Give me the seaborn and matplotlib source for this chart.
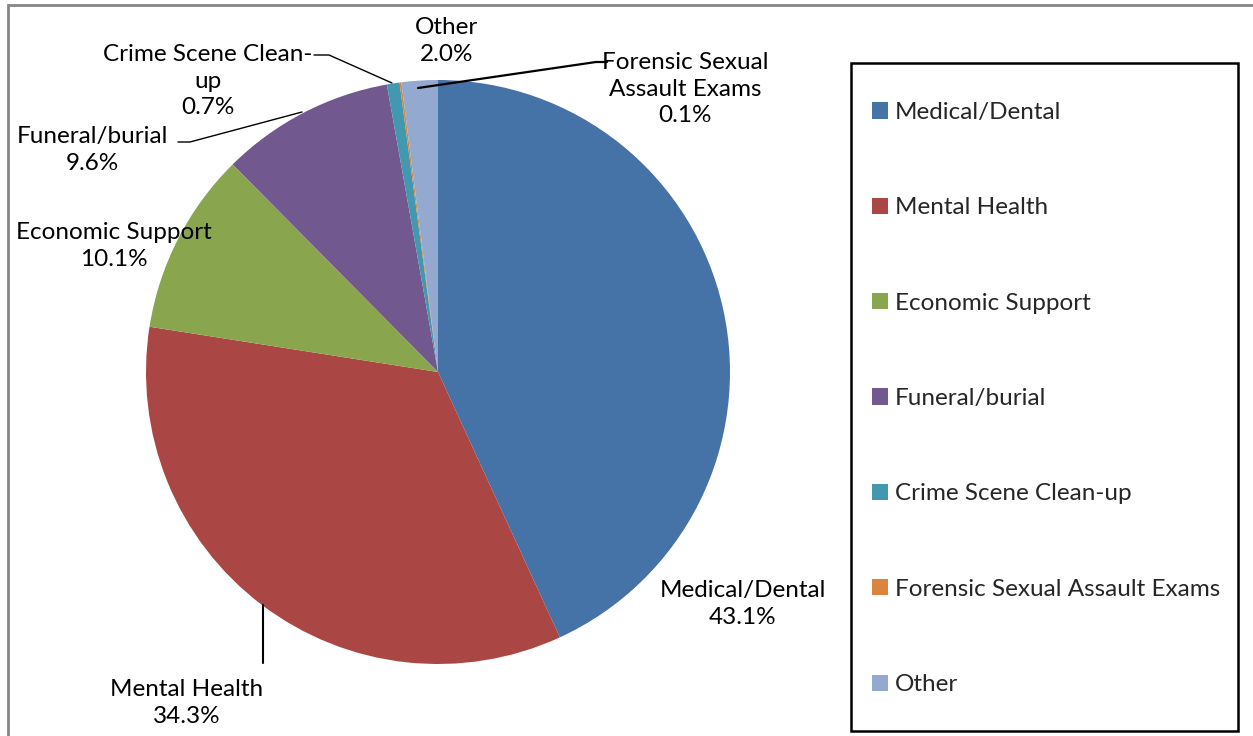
import pandas as pd
from matplotlib import pyplot as plt
from matplotlib.patches import Rectangle, Patch
import seaborn as sns

# data
categories = ['Medical/Dental', 'Mental Health', 'Economic Support', 'Funeral/burial',
              'Crime Scene Clean-up', 'Forensic Sexual Assault Exams', 'Other']
shares = [43.1, 34.3, 10.1, 9.6, 0.7, 0.1, 2.0]
label_text = ['Medical/Dental\n43.1%', 'Mental Health\n34.3%', 'Economic Support\n10.1%',
              'Funeral/burial\n9.6%', 'Crime Scene Clean-\nup\n0.7%',
              'Forensic Sexual\nAssault Exams\n0.1%', 'Other\n2.0%']
colors = ['#4572A7', '#AA4643', '#89A54E', '#71588F', '#4198AF', '#DB843D', '#93A9CF']

df = pd.DataFrame({'cat': categories, 'share': shares})

sns.set_theme(style="white")
plt.rcParams['font.family'] = ['Lato', 'DejaVu Sans']
FS = 17.5

W, H = 1253, 736
CX, CY, R = 438, 372, 292


def to_data(px, py):
    # pixel position in the picture -> pie data coords
    return (px - CX) / R, (CY - py) / R


fig = plt.figure(figsize=(W / 100, H / 100), dpi=100)
ax = fig.add_axes([0, 0, 1, 1])

wedges, _ = ax.pie(df['share'], colors=colors, startangle=90, counterclock=False,
                   radius=1.0, wedgeprops=dict(linewidth=0))
ax.set_aspect('auto')
ax.set_xlim(-CX / R, (W - CX) / R)
ax.set_ylim((CY - H) / R, CY / R)
ax.axis('off')

# label placement (pixel centres)
label_pos = [(743, 604), (187, 703), (114, 246), (92, 150), (208, 81), (685, 89), (447, 41)]
for txt, (px, py) in zip(label_text, label_pos):
    x, y = to_data(px, py)
    ax.text(x, y, txt, ha='center', va='center', fontsize=FS, linespacing=1.3,
            color='black')

# leader lines
leaders = [
    ([(263, 605), (263, 663)], 1.5),
    ([(178, 142), (190, 142), (302, 112)], 1.0),
    ([(314, 55), (329, 55), (392, 83)], 1.0),
    ([(607, 62), (596, 62), (418, 88)], 1.6),
]
for pts, lw in leaders:
    xs, ys = zip(*[to_data(*p) for p in pts])
    ax.plot(xs, ys, color='black', lw=lw)

# legend
handles = [Patch(facecolor=c, edgecolor='none') for c in colors]
leg = fig.legend(handles, categories, loc='upper left',
                 bbox_to_anchor=(872 / W, 1 - 102 / H), frameon=False,
                 fontsize=FS, labelspacing=3.06, handlelength=0.65, handleheight=0.65,
                 handletextpad=0.3, borderaxespad=0, borderpad=0)
fig.patches.append(Rectangle((851 / W, 1 - 731 / H), (1238 - 851) / W, (731 - 63) / H,
                             transform=fig.transFigure, fill=False, edgecolor='black', lw=1.8))
# outer chart border
fig.patches.append(Rectangle((8 / W, -0.05), 1.1, 1 - 5 / H + 0.05,
                             transform=fig.transFigure, fill=False, edgecolor='#868686', lw=2))

fig.savefig('out.png', dpi=100)
